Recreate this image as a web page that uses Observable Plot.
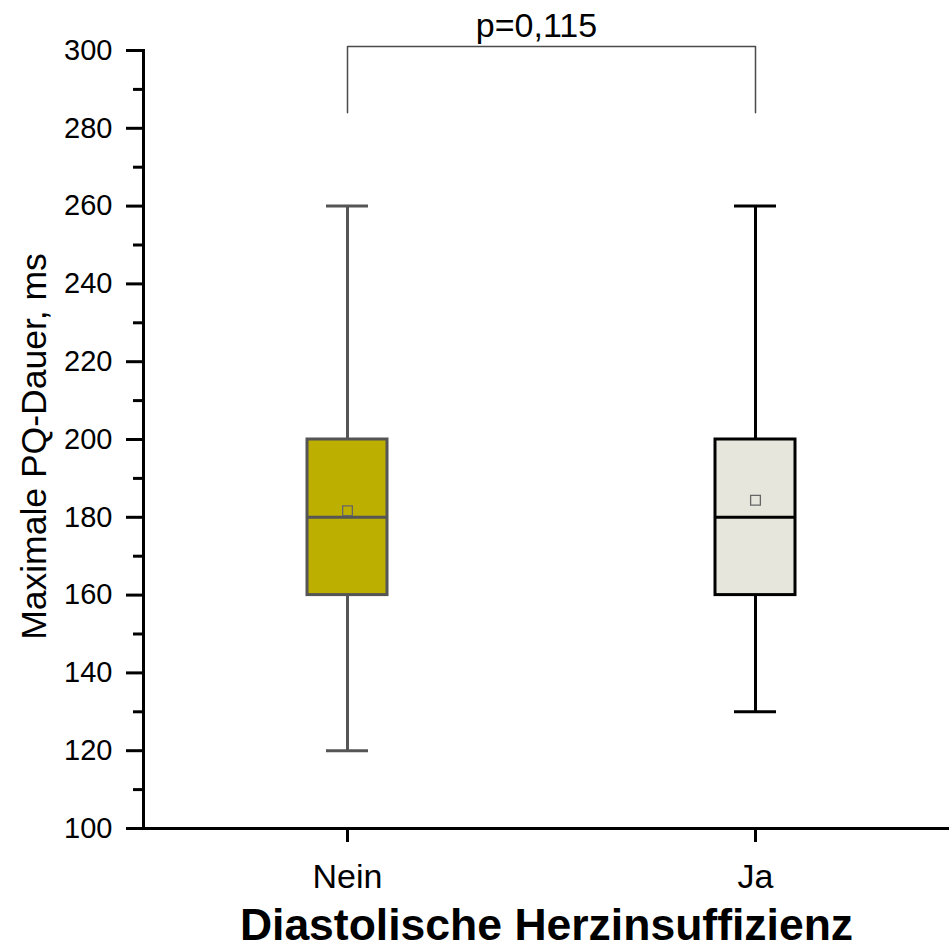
<!DOCTYPE html>
<html>
<head>
<meta charset="utf-8">
<script src="https://cdn.jsdelivr.net/npm/d3@7"></script>
<script src="https://cdn.jsdelivr.net/npm/@observablehq/plot@0.6"></script>
<style>
  html, body { margin: 0; padding: 0; background: #fff; }
</style>
</head>
<body>
<div id="chart"></div>
<script>
// ---- data ----
const groups = ["Nein", "Ja"];
const whiskerLow = [120, 130];
const q1 = [160, 160];
const median = [180, 180];
const q3 = [200, 200];
const whiskerHigh = [260, 260];
const means = [181.7, 184.4];
const yMajorTicks = [100, 120, 140, 160, 180, 200, 220, 240, 260, 280, 300];
const yMinorTicks = [110, 130, 150, 170, 190, 210, 230, 250, 270, 290];
const bracketTop = 301;
const bracketBottom = 284;
const pLabel = "p=0,115";
const yLabel = "Maximale PQ-Dauer, ms";
const xLabel = "Diastolische Herzinsuffizienz";

// ---- styles ----
const boxFill = {Nein: "#bcaf00", Ja: "#e6e6dc"};
const boxStroke = {Nein: "#555555", Ja: "#000000"};
const font = "'Liberation Sans', Arial, sans-serif";

const rows = groups.map((g, i) => ({
  group: g, low: whiskerLow[i], q1: q1[i], median: median[i], q3: q3[i], high: whiskerHigh[i], mean: means[i]
}));

const boxInset = 164;
const capInset = 183;

const boxMarks = rows.flatMap(r => {
  const d = [r];
  const s = boxStroke[r.group];
  return [
    Plot.ruleX(d, {x: "group", y1: "low", y2: "high", stroke: s, strokeWidth: 3}),
    Plot.tickY(d, {x: "group", y: "low", stroke: s, strokeWidth: 3, insetLeft: capInset, insetRight: capInset}),
    Plot.tickY(d, {x: "group", y: "high", stroke: s, strokeWidth: 3, insetLeft: capInset, insetRight: capInset}),
    Plot.barY(d, {x: "group", y1: "q1", y2: "q3", fill: boxFill[r.group], stroke: s, strokeWidth: 3, insetLeft: boxInset, insetRight: boxInset}),
    Plot.tickY(d, {x: "group", y: "median", stroke: s, strokeWidth: 3, insetLeft: boxInset, insetRight: boxInset}),
    Plot.dot(d, {x: "group", y: "mean", symbol: "square", r: 5.5, fill: "none", stroke: "#666", strokeWidth: 1.3})
  ];
});

const bracket = [
  {x: groups[0], y: bracketBottom},
  {x: groups[0], y: bracketTop},
  {x: groups[1], y: bracketTop},
  {x: groups[1], y: bracketBottom}
];

const chart = Plot.plot({
  width: 949,
  height: 951,
  marginLeft: 143,
  marginRight: 0,
  marginTop: 50,
  marginBottom: 123,
  style: {fontFamily: font, color: "#000", background: "#fff"},
  x: {type: "band", domain: groups, range: [143, 959], padding: 0, axis: null},
  y: {domain: [100, 300], axis: null},
  marks: [
    // y axis
    Plot.axisY({ticks: yMajorTicks, tickSize: 17, tickPadding: 14, fontSize: 29, strokeWidth: 3, stroke: "#000", fill: "#000", label: null}),
    Plot.axisY({ticks: yMinorTicks, tickSize: 10, tickFormat: () => "", strokeWidth: 3, stroke: "#000", label: null}),
    Plot.frame({anchor: "left", stroke: "#000", strokeWidth: 3}),
    // x axis
    Plot.ruleY([100], {stroke: "#000", strokeWidth: 3}),
    Plot.axisX({tickSize: 14, tickPadding: 21, fontSize: 34, strokeWidth: 3, stroke: "#000", fill: "#000", label: null}),
    // boxes
    ...boxMarks,
    // significance bracket
    Plot.line(bracket, {x: "x", y: "y", stroke: "#4a4a4a", strokeWidth: 1.5}),
    Plot.text([pLabel], {text: d => d, y: () => bracketTop, dx: -10, dy: -21, lineAnchor: "middle", fontSize: 34, fill: "#000"}),
    // axis titles
    Plot.text([yLabel], {text: d => d, frameAnchor: "left", textAnchor: "middle", lineAnchor: "middle", rotate: -90, dx: -109, dy: 7, fontSize: 35.5, fill: "#000"}),
    Plot.text([xLabel], {text: d => d, frameAnchor: "bottom", textAnchor: "middle", lineAnchor: "middle", dy: 97, fontSize: 44.5, fontWeight: "bold", fill: "#000"})
  ]
});

document.getElementById("chart").appendChild(chart);
</script>
</body>
</html>
